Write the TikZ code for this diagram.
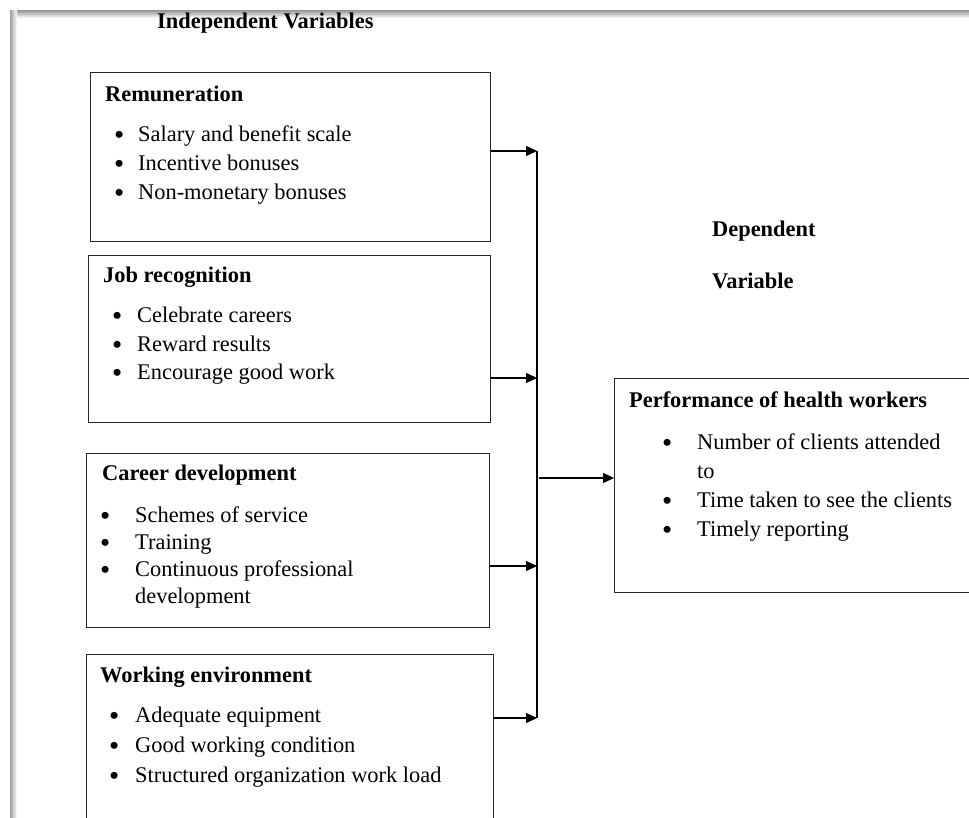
\documentclass[tikz,border=0pt]{standalone}
\usepackage{fontspec}
\setmainfont{Liberation Serif}
\usetikzlibrary{arrows.meta,positioning}
\tikzstyle{block} = [rectangle, draw=black!85, line width=1.2pt, inner sep=0pt, anchor=north west]
\tikzstyle{head} = [anchor=base west, inner sep=0pt, font=\fontsize{22.4}{27}\selectfont\bfseries]
\tikzstyle{items} = [anchor=base west, inner sep=0pt]
\tikzstyle{line} = [draw, line width=1.3pt, -{Triangle[length=11pt,width=10pt]}]
\newcommand{\blist}[2]{\begin{tabular}[t]{@{}p{#1}@{}l@{}}#2\end{tabular}}
\newcommand{\bul}{\smash{\raisebox{-3pt}{\scalebox{1.3}{\textbullet}}}}

\begin{document}
\begin{tikzpicture}[x=1pt, y=-1pt]
    \useasboundingbox (0,0) rectangle (969,818);
    \clip (0,0) rectangle (969,818);
    % page edge
    \shade[top color=gray!75, bottom color=white] (10,11) rectangle (969,18);
    \shade[left color=gray!75, right color=white] (10,11) rectangle (17,818);

    % Place nodes
    \node [head] (indep) at (157,29) {Independent Variables};
    \node [head] (dep) at (712,237) {Dependent};
    \node [head] (depvar) at (712,289) {Variable};

    \node [block, minimum width=400pt, minimum height=169pt] (remun) at (90,72) {};
    \node [head] (remunhead) at (105,102) {Remuneration};
    \node [items, font=\fontsize{22.4}{29}\selectfont] (remunlist) at (114,142) {\blist{24pt}{
        \bul & Salary and benefit scale\\
        \bul & Incentive bonuses\\
        \bul & Non-monetary bonuses}};

    \node [block, minimum width=402pt, minimum height=167pt] (jobrec) at (88,255) {};
    \node [head] (jobrechead) at (103,283) {Job recognition};
    \node [items, font=\fontsize{22.4}{28.5}\selectfont] (jobreclist) at (112,323) {\blist{25pt}{
        \bul & Celebrate careers\\
        \bul & Reward results\\
        \bul & Encourage good work}};

    \node [block, minimum width=403pt, minimum height=174pt] (career) at (86,453) {};
    \node [head] (careerhead) at (102,480) {Career development};
    \node [items, font=\fontsize{22.4}{27}\selectfont] (careerlist) at (100,522) {\blist{35pt}{
        \bul & Schemes of service\\
        \bul & Training\\
        \bul & Continuous professional\\
             & development}};

    \node [block, minimum width=407pt, minimum height=190pt] (workenv) at (86,654) {};
    \node [head] (workenvhead) at (100,682) {Working environment};
    \node [items, font=\fontsize{22.4}{30}\selectfont] (workenvlist) at (109,722) {\blist{26pt}{
        \bul & Adequate equipment\\
        \bul & Good working condition\\
        \bul & Structured organization work load}};

    \node [block, minimum width=380pt, minimum height=214pt] (perf) at (614,378) {};
    \node [head] (perfhead) at (629,407) {Performance of health workers};
    \node [items, font=\fontsize{22.4}{29}\selectfont] (perflist) at (662,449) {\blist{35pt}{
        \bul & Number of clients attended\\
             & to\\
        \bul & Time taken to see the clients\\
        \bul & Timely reporting}};

    % Draw edges
    \coordinate (bus1) at (537,151);
    \coordinate (bus2) at (537,378);
    \coordinate (bus3) at (537,566);
    \coordinate (bus4) at (537,718);
    \coordinate (busout) at (539,478);
    \draw [line width=1.3pt] (bus1) -- (bus4);
    \path [line] (remun.east |- bus1) -- (bus1);
    \path [line] (jobrec.east |- bus2) -- (bus2);
    \path [line] (career.east |- bus3) -- (bus3);
    \path [line] (workenv.east |- bus4) -- (bus4);
    \path [line] (busout) -- (perf.west |- busout);
\end{tikzpicture}
\end{document}
